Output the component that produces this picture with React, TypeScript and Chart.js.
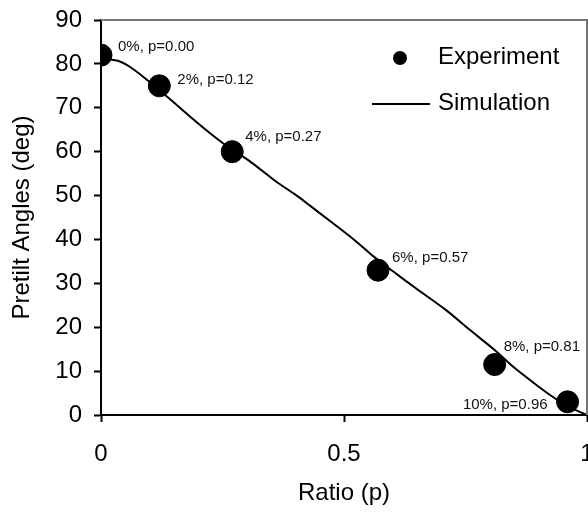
import React, { useEffect, useRef } from "react";
import { Chart, registerables } from "chart.js";

Chart.register(...registerables);

// Experimental points
const expRatio = [0, 0.12, 0.27, 0.57, 0.81, 0.96];
const expAngle = [82, 75, 60, 33, 11.5, 3];
const expLabels = ["0%, p=0.00", "2%, p=0.12", "4%, p=0.27", "6%, p=0.57", "8%, p=0.81", "10%, p=0.96"];

// Simulation curve
const simRatio = [0, 0.02, 0.04, 0.06, 0.09, 0.12, 0.15, 0.18, 0.22, 0.26, 0.3, 0.33, 0.36, 0.4, 0.43, 0.47, 0.52, 0.56, 0.6, 0.65, 0.71, 0.76, 0.81, 0.85, 0.9, 0.93, 0.96, 0.99, 1.0];
const simAngle = [81.5, 81.0, 80.5, 79.3, 76.8, 74.0, 71.2, 68.3, 64.6, 61.2, 58.3, 55.8, 53.2, 50.2, 47.7, 44.3, 40.0, 36.2, 32.8, 28.7, 23.9, 19.3, 14.8, 10.8, 6.5, 4.1, 2.0, 0.5, 0];

// Axis ticks
const xTickValues = [0, 0.5, 1];
const yTickValues = [0, 10, 20, 30, 40, 50, 60, 70, 80, 90];

const FONT = "'Liberation Sans', Arial, Helvetica, sans-serif";

// label offsets relative to the experimental point (pixels)
const labelOffsets: Array<[number, number, CanvasTextAlign]> = [
  [17, -8, "left"],
  [18, -6, "left"],
  [13, -15, "left"],
  [14, -12, "left"],
  [9, -18, "left"],
  [-20, 3, "right"],
];

const decorPlugin = {
  id: "decor",
  afterDatasetsDraw(chart: any) {
    const { ctx, chartArea, scales } = chart;
    const { left, right, top, bottom } = chartArea;
    ctx.save();
    // top / right frame
    ctx.strokeStyle = "#777777";
    ctx.lineWidth = 2;
    ctx.beginPath();
    ctx.moveTo(left, top);
    ctx.lineTo(right, top);
    ctx.lineTo(right, bottom);
    ctx.stroke();

    // point annotations
    ctx.fillStyle = "#111111";
    ctx.font = `15px ${FONT}`;
    ctx.textBaseline = "middle";
    expLabels.forEach((txt, i) => {
      const px = scales.x.getPixelForValue(expRatio[i]);
      const py = scales.y.getPixelForValue(expAngle[i]);
      const [dx, dy, al] = labelOffsets[i];
      ctx.textAlign = al;
      ctx.fillText(txt, px + dx, py + dy);
    });

    // legend
    ctx.fillStyle = "#000000";
    ctx.beginPath();
    ctx.arc(right - 187, top + 38, 7, 0, Math.PI * 2);
    ctx.fill();
    ctx.strokeStyle = "#000000";
    ctx.lineWidth = 2;
    ctx.beginPath();
    ctx.moveTo(right - 215, top + 84);
    ctx.lineTo(right - 157, top + 84);
    ctx.stroke();
    ctx.font = `24px ${FONT}`;
    ctx.textAlign = "left";
    ctx.textBaseline = "middle";
    ctx.fillText("Experiment", right - 149, top + 37);
    ctx.fillText("Simulation", right - 149, top + 83);
    ctx.restore();
  },
};

export default function App() {
  const ref = useRef<HTMLCanvasElement | null>(null);
  useEffect(() => {
    if (!ref.current) return;
    const chart = new Chart(ref.current, {
      type: "scatter",
      data: {
        datasets: [
          {
            label: "Experiment",
            data: expRatio.map((x, i) => ({ x, y: expAngle[i] })),
            backgroundColor: "#000000",
            borderColor: "#000000",
            pointRadius: 11,
            pointHoverRadius: 11,
            showLine: false,
            order: 2,
          },
          {
            label: "Simulation",
            data: simRatio.map((x, i) => ({ x, y: simAngle[i] })),
            borderColor: "#000000",
            borderWidth: 2,
            pointRadius: 0,
            showLine: true,
            tension: 0.3,
            fill: false,
            order: 1,
          } as any,
        ],
      },
      options: {
        animation: false,
        responsive: true,
        maintainAspectRatio: false,
        layout: { autoPadding: false, padding: { top: 20, right: 1, left: 0, bottom: 0 } },
        plugins: { legend: { display: false }, tooltip: { enabled: false } },
        scales: {
          x: {
            type: "linear",
            min: 0,
            max: 1,
            afterBuildTicks: (s: any) => {
              s.ticks = xTickValues.map((v) => ({ value: v }));
            },
            afterFit: (s: any) => {
              s.height = 100;
              s.paddingLeft = 0;
              s.paddingRight = 0;
            },
            ticks: {
              color: "#000000",
              font: { family: FONT, size: 24 },
              padding: 18,
              maxRotation: 0,
              autoSkip: false,
              callback: (v: any) => String(v),
            },
            grid: {
              drawOnChartArea: false,
              drawTicks: true,
              tickLength: 7,
              tickColor: "#000000",
              tickWidth: 2,
            },
            border: { display: true, color: "#000000", width: 2 },
            title: {
              display: true,
              text: "Ratio (p)",
              color: "#000000",
              font: { family: FONT, size: 24 },
              padding: { top: 0, bottom: 7 },
            },
          },
          y: {
            type: "linear",
            min: 0,
            max: 90,
            afterBuildTicks: (s: any) => {
              s.ticks = yTickValues.map((v) => ({ value: v }));
            },
            afterFit: (s: any) => {
              s.width = 101;
              s.paddingTop = 0;
              s.paddingBottom = 0;
            },
            ticks: {
              color: "#000000",
              font: { family: FONT, size: 24 },
              padding: 12,
              autoSkip: false,
              callback: (v: any) => String(v),
            },
            grid: {
              drawOnChartArea: false,
              drawTicks: true,
              tickLength: 7,
              tickColor: "#000000",
              tickWidth: 2,
            },
            border: { display: true, color: "#000000", width: 2 },
            title: {
              display: true,
              text: "Pretilt Angles (deg)",
              color: "#000000",
              font: { family: FONT, size: 24 },
              padding: { top: 8, bottom: 0 },
            },
          },
        },
      },
      plugins: [decorPlugin],
    });
    return () => chart.destroy();
  }, []);

  return (
    <div style={{ position: "absolute", left: 0, top: 0, width: 588, height: 515, background: "#ffffff" }}>
      <canvas ref={ref} />
    </div>
  );
}
